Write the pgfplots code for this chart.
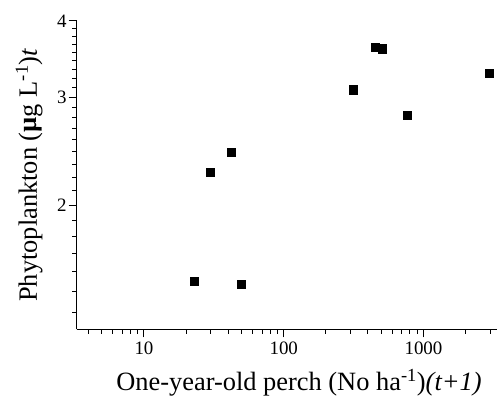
\documentclass[border=0pt]{standalone}
\usepackage{fontspec}
\setmainfont{Liberation Serif}
\usepackage{pgfplots}
\pgfplotsset{compat=1.18}
\newcommand{\tl}[1]{\mbox{\fontsize{19}{21}\selectfont #1}}
\begin{document}
\begin{tikzpicture}
\begin{axis}[
  at={(0,0)}, anchor=south west,
  scale only axis, width=420.3bp, height=308.3bp,
  xmode=log, ymode=log,
  xmin=3.3, xmax=3357, ymin=1.253, ymax=4,
  axis x line*=bottom, axis y line*=left,
  axis line style={line width=1bp},
  tick style={line width=1bp, black},
  tick align=outside,
  major tick length=8bp, minor tick length=4.5bp,
  xtick={10,100,1000}, xticklabels={\tl{10},\tl{100},\tl{1000}},
  minor xtick={4,5,6,7,8,9,20,30,40,50,60,70,80,90,200,300,400,500,600,700,800,900,2000,3000},
  ytick={2,3,4}, yticklabels={\tl{2},\tl{3},\tl{4}},
  minor ytick={1.3333,1.4444,1.5556,1.6667,1.7778,1.8889,2.1111,2.2222,2.3333,2.4444,2.5556,2.6667,2.7778,2.8889,3.1111,3.2222,3.3333,3.4444,3.5556,3.6667,3.7778,3.8889},
  yticklabel style={inner sep=2bp},
  xticklabel style={inner sep=4bp},
  label style={font=\fontsize{26.5}{28}\selectfont},
  xlabel={One-year-old perch (No ha\textsuperscript{-1})\textit{(t+1)}},
  ylabel={Phytoplankton (\textbf{µ}g L\textsuperscript{-1})\textit{t}},
  xlabel style={at={(axis description cs:0.529,-0.2001)}, anchor=base},
  ylabel style={at={(axis description cs:-0.0945,0.5)}, anchor=base},
  clip=false,
]
\addplot[only marks, mark=square*, mark size=4.1bp, black] coordinates {
(23.0,1.504) (29.9,2.262) (42.0,2.442) (49.8,1.487) (315,3.088)
(453,3.622) (506,3.603) (768,2.807) (2934,3.289)
};
\end{axis}
\pgfresetboundingbox
\path[use as bounding box] (-76.7bp,-68.7bp) rectangle (421.3bp,329.3bp);
\end{tikzpicture}
\end{document}
